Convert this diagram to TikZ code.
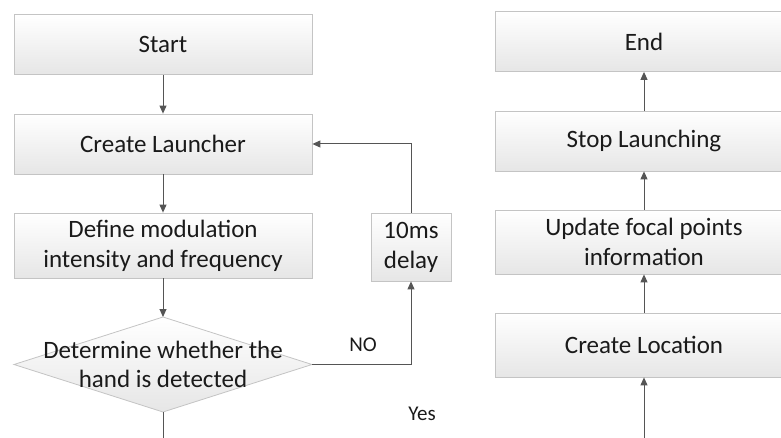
\documentclass[tikz,border=0pt]{standalone}
\usepackage{fontspec}
\setmainfont{Carlito}
\usetikzlibrary{arrows.meta}
\definecolor{boxline}{HTML}{C4C4C4}
\definecolor{boxtop}{HTML}{FFFFFF}
\definecolor{boxbot}{HTML}{E6E6E6}
\definecolor{arrowc}{HTML}{555555}
\definecolor{txt}{HTML}{1A1A1A}
\begin{document}
\begin{tikzpicture}[x=1pt,y=-1pt,
  box/.style={draw=boxline,line width=0.8pt,top color=boxtop,bottom color=boxbot,
    minimum width=298pt,minimum height=#1,inner sep=0pt,align=center,text=txt,
    font=\fontsize{25}{30}\selectfont},
  box/.default=60pt,
  lbl/.style={font=\fontsize{21}{24}\selectfont,inner sep=0pt,text=txt},
  conn/.style={draw=arrowc,line width=1pt,-{Triangle[length=8pt,width=7pt]}},
  plain/.style={draw=arrowc,line width=1pt}]
\useasboundingbox (0,0) rectangle (781,438);
\begin{scope}
\clip (0,0) rectangle (781,438);
% left column
\node[box] (start) at (163,44.5) {Start};
\node[box] (launch) at (163,144) {Create Launcher};
\node[box=65pt] (define) at (163,245.5) {Define modulation\\intensity and frequency};
\node[box=68pt,minimum width=80pt] (delay) at (411,247) {10ms\\delay};
% diamond
\coordinate (dt) at (163,317);
\coordinate (dl) at (14,364.5);
\coordinate (dr) at (312,364.5);
\coordinate (db) at (163,412);
\coordinate (dbend) at (163,438);
\coordinate (corner1) at (411,364.5);
\coordinate (corner2) at (411,144);
\path[draw=boxline,line width=0.8pt,top color=boxtop,bottom color=boxbot] (dt) -- (dr) -- (db) -- (dl) -- cycle;
\node[align=center,font=\fontsize{25}{29}\selectfont,inner sep=0pt,text=txt] (decide) at (163,364.5) {Determine whether the\\hand is detected};
\node[lbl] (no) at (363,345) {NO};
\node[lbl] (yes) at (422,414) {Yes};
% right column
\node[box] (endn) at (644,41.5) {End};
\node[box] (stop) at (644,141) {Stop Launching};
\node[box=64pt] (update) at (644,242) {Update focal points\\information};
\node[box=64pt] (loc) at (644,345) {Create Location};
\coordinate (locin) at (644,438);
% connectors
\draw[conn] (start) -- (launch);
\draw[conn] (launch) -- (define);
\draw[conn] (define) -- (dt);
\draw[plain] (db) -- (dbend);
\draw[conn] (dr) -- (corner1) -- (delay.south);
\draw[conn] (delay.north) -- (corner2) -- (launch.east);
\draw[conn] (locin) -- (loc);
\draw[conn] (loc) -- (update);
\draw[conn] (update) -- (stop);
\draw[conn] (stop) -- (endn);
\end{scope}
\end{tikzpicture}
\end{document}
